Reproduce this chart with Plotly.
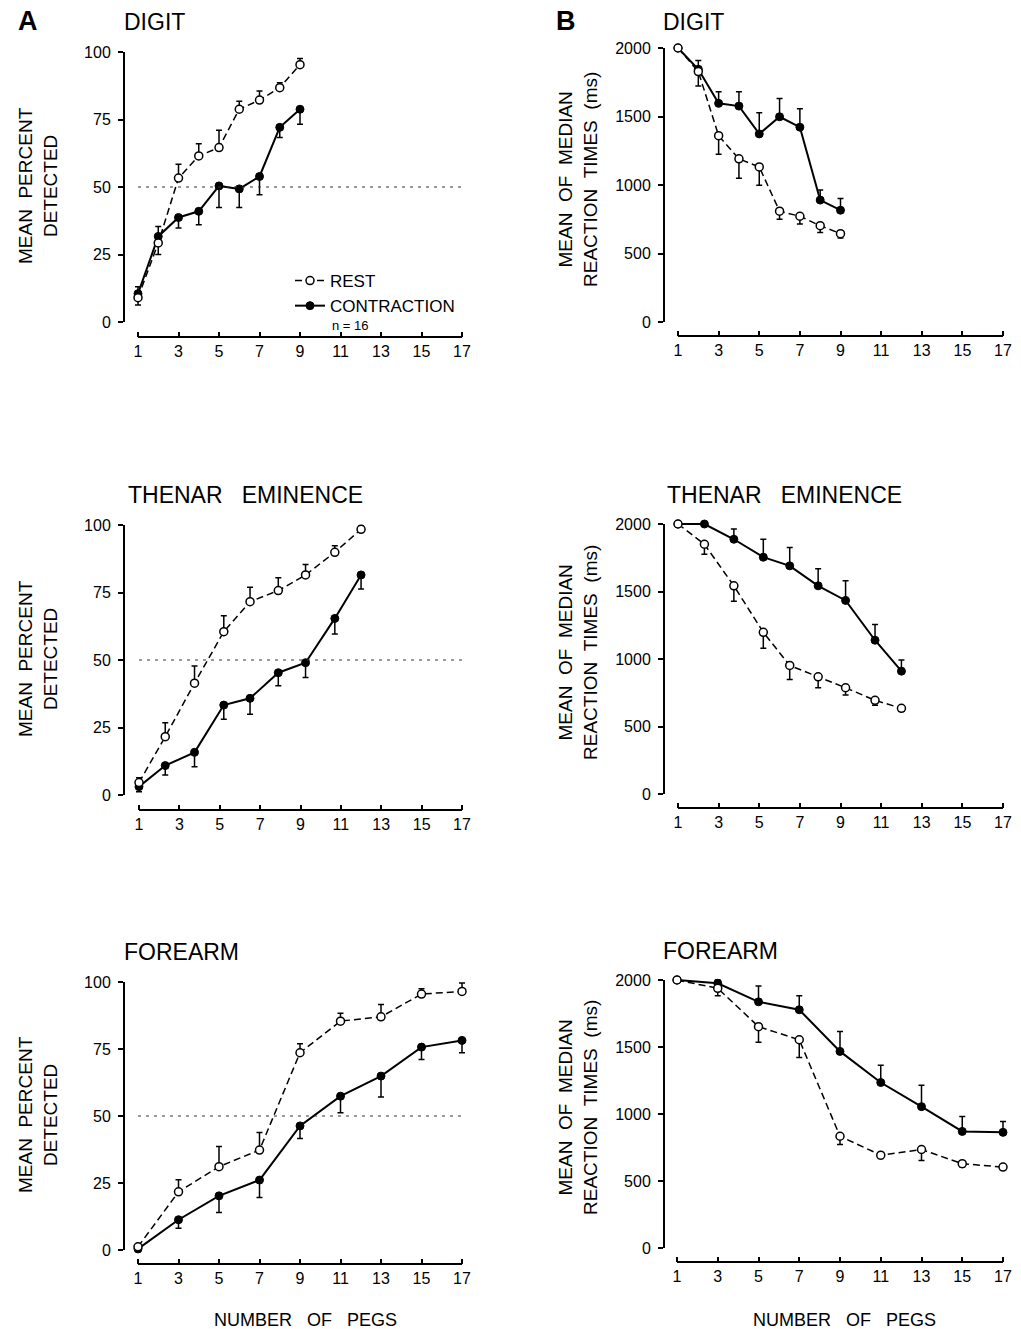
import plotly.graph_objects as go

W, H = 1021, 1329
FONT = "Liberation Sans, Arial, Helvetica, sans-serif"

# ---------------- data ----------------
x_digit = [1, 2, 3, 4, 5, 6, 7, 8, 9]
x_thenar = [1, 2.3, 3.75, 5.2, 6.5, 7.9, 9.25, 10.7, 12]
x_forearm = [1, 3, 5, 7, 9, 11, 13, 15, 17]
x_ticks = [1, 3, 5, 7, 9, 11, 13, 15, 17]
pct_ticks = [0, 25, 50, 75, 100]
rt_ticks = [0, 500, 1000, 1500, 2000]

# A: mean percent detected
digit_pct_rest = [9.0, 29.3, 53.3, 61.5, 64.6, 78.8, 82.2, 86.8, 95.3]
digit_pct_rest_up = [0, 0, 5.1, 4.5, 6.4, 3.0, 3.4, 1.8, 2.3]
digit_pct_rest_dn = [2.7, 4.3, 0, 0, 0, 0, 0, 0, 0]
digit_pct_con = [10.5, 31.7, 38.7, 41.0, 50.4, 49.3, 53.9, 72.1, 78.8]
digit_pct_con_up = [2.6, 3.7, 0, 0, 0, 0, 0, 0, 0]
digit_pct_con_dn = [0, 0, 3.9, 5.0, 8.0, 6.9, 6.8, 3.8, 5.6]

thenar_pct_rest = [4.6, 21.6, 41.4, 60.5, 71.6, 75.7, 81.5, 89.9, 98.4]
thenar_pct_rest_up = [1.8, 5.2, 6.4, 5.9, 5.3, 4.8, 3.9, 2.4, 1.2]
thenar_pct_rest_dn = [0, 0, 0, 0, 0, 0, 0, 0, 0]
thenar_pct_con = [3.1, 10.9, 15.8, 33.3, 35.8, 45.3, 49.0, 65.4, 81.5]
thenar_pct_con_up = [0, 0, 0, 0, 0, 0, 0, 0, 0]
thenar_pct_con_dn = [1.9, 3.5, 5.3, 5.2, 5.9, 4.8, 5.5, 5.8, 5.2]

forearm_pct_rest = [1.2, 21.7, 31.1, 37.3, 73.6, 85.4, 87.0, 95.5, 96.5]
forearm_pct_rest_up = [0, 4.5, 7.5, 6.5, 3.4, 2.9, 4.6, 2.0, 3.1]
forearm_pct_rest_dn = [0, 0, 0, 0, 0, 0, 0, 0, 0]
forearm_pct_con = [0.4, 11.3, 20.2, 26.1, 46.3, 57.4, 64.9, 75.7, 78.2]
forearm_pct_con_up = [0, 0, 0, 0, 0, 0, 0, 0, 0]
forearm_pct_con_dn = [0, 3.2, 6.2, 6.5, 4.7, 6.2, 7.8, 4.6, 4.6]

# B: mean of median reaction times (ms)
digit_rt_rest = [2000, 1828, 1360, 1191, 1132, 809, 772, 703, 645]
digit_rt_rest_up = [0, 0, 0, 0, 0, 0, 0, 0, 0]
digit_rt_rest_dn = [0, 105, 135, 142, 134, 59, 56, 49, 32]
digit_rt_con = [2000, 1845, 1596, 1576, 1373, 1498, 1422, 890, 816]
digit_rt_con_up = [0, 64, 85, 105, 154, 134, 134, 73, 86]
digit_rt_con_dn = [0, 0, 0, 0, 0, 0, 0, 0, 0]

thenar_rt_rest = [2000, 1850, 1542, 1198, 952, 868, 787, 694, 635]
thenar_rt_rest_up = [0, 0, 0, 0, 0, 0, 0, 0, 0]
thenar_rt_rest_dn = [0, 74, 115, 118, 103, 81, 54, 37, 20]
thenar_rt_con = [2000, 2000, 1887, 1754, 1690, 1542, 1434, 1139, 910]
thenar_rt_con_up = [0, 0, 76, 133, 136, 126, 145, 116, 82]
thenar_rt_con_dn = [0, 0, 0, 0, 0, 0, 0, 0, 0]

forearm_rt_rest = [2000, 1938, 1652, 1554, 834, 693, 735, 629, 604]
forearm_rt_rest_up = [0, 0, 0, 0, 0, 0, 0, 0, 0]
forearm_rt_rest_dn = [0, 56, 116, 133, 62, 25, 82, 25, 0]
forearm_rt_con = [2000, 1975, 1837, 1778, 1467, 1235, 1055, 870, 863]
forearm_rt_con_up = [0, 25, 118, 104, 148, 128, 160, 111, 81]
forearm_rt_con_dn = [0, 0, 0, 0, 0, 0, 0, 0, 0]

titles = ["DIGIT", "THENAR&nbsp;&nbsp;&nbsp;EMINENCE", "FOREARM"]

# ---------------- panel geometry (pixels) ----------------
panels = [
    dict(x=x_digit, rest=digit_pct_rest, rup=digit_pct_rest_up, rdn=digit_pct_rest_dn,
         con=digit_pct_con, cup=digit_pct_con_up, cdn=digit_pct_con_dn, vmax=100, ticks=pct_ticks,
         left=124, bottom=337, v0=322, vtop=52, x1=138, x17=462, ref=True),
    dict(x=x_digit, rest=digit_rt_rest, rup=digit_rt_rest_up, rdn=digit_rt_rest_dn,
         con=digit_rt_con, cup=digit_rt_con_up, cdn=digit_rt_con_dn, vmax=2000, ticks=rt_ticks,
         left=664, bottom=336, v0=322, vtop=48, x1=678, x17=1003, ref=False),
    dict(x=x_thenar, rest=thenar_pct_rest, rup=thenar_pct_rest_up, rdn=thenar_pct_rest_dn,
         con=thenar_pct_con, cup=thenar_pct_con_up, cdn=thenar_pct_con_dn, vmax=100, ticks=pct_ticks,
         left=124, bottom=810, v0=795, vtop=525, x1=139, x17=462, ref=True),
    dict(x=x_thenar, rest=thenar_rt_rest, rup=thenar_rt_rest_up, rdn=thenar_rt_rest_dn,
         con=thenar_rt_con, cup=thenar_rt_con_up, cdn=thenar_rt_con_dn, vmax=2000, ticks=rt_ticks,
         left=664, bottom=808, v0=794, vtop=524, x1=678, x17=1003, ref=False),
    dict(x=x_forearm, rest=forearm_pct_rest, rup=forearm_pct_rest_up, rdn=forearm_pct_rest_dn,
         con=forearm_pct_con, cup=forearm_pct_con_up, cdn=forearm_pct_con_dn, vmax=100, ticks=pct_ticks,
         left=124, bottom=1264, v0=1250, vtop=982, x1=138, x17=462, ref=True),
    dict(x=x_forearm, rest=forearm_rt_rest, rup=forearm_rt_rest_up, rdn=forearm_rt_rest_dn,
         con=forearm_rt_con, cup=forearm_rt_con_up, cdn=forearm_rt_con_dn, vmax=2000, ticks=rt_ticks,
         left=664, bottom=1262, v0=1248, vtop=980, x1=677, x17=1003, ref=False),
]

fig = go.Figure()
shapes = []
annotations = []
layout_axes = {}

for i, p in enumerate(panels):
    n = i + 1
    sfx = "" if n == 1 else str(n)
    xa, ya = "x" + sfx, "y" + sfx
    right = p["x17"] + 10
    top = p["vtop"] - 8
    ux = (p["x17"] - p["x1"]) / 16.0
    xmin = 1 - (p["x1"] - p["left"]) / ux
    xmax = 17 + (right - p["x17"]) / ux
    uy = (p["v0"] - p["vtop"]) / p["vmax"]
    ymin = -(p["bottom"] - p["v0"]) / uy
    ymax = p["vmax"] + (p["vtop"] - top) / uy

    layout_axes["xaxis" + sfx] = dict(
        domain=[p["left"] / W, right / W], range=[xmin, xmax], anchor=ya,
        showgrid=False, zeroline=False, showline=False,
        tickmode="array", tickvals=x_ticks, ticks="inside", ticklen=5, tickwidth=1.5,
        tickcolor="black", tickfont=dict(family=FONT, size=16, color="black"),
        ticklabelstandoff=3,
    )
    layout_axes["yaxis" + sfx] = dict(
        domain=[1 - p["bottom"] / H, 1 - top / H], range=[ymin, ymax], anchor=xa,
        showgrid=False, zeroline=False, showline=False,
        tickmode="array", tickvals=p["ticks"], ticks="outside", ticklen=5, tickwidth=1.5,
        tickcolor="black", tickfont=dict(family=FONT, size=16, color="black"),
        ticklabelstandoff=4,
    )
    # axis lines
    shapes.append(dict(type="line", xref=xa, yref=ya + " domain", x0=1, x1=17, y0=0, y1=0,
                       line=dict(color="black", width=2)))
    shapes.append(dict(type="line", xref=xa + " domain", yref=ya, x0=0, x1=0, y0=0, y1=p["vmax"],
                       line=dict(color="black", width=2)))
    if p["ref"]:
        shapes.append(dict(type="line", xref=xa, yref=ya, x0=1, x1=17, y0=50, y1=50,
                           line=dict(color="#333333", width=1, dash="3px,5px")))

    fig.add_trace(go.Scatter(
        x=p["x"], y=p["con"], xaxis=xa, yaxis=ya, mode="lines+markers",
        name="CONTRACTION", legendgroup="con", showlegend=(n == 1), legendrank=2,
        line=dict(color="black", width=2),
        marker=dict(symbol="circle", size=8, color="black", line=dict(color="black", width=1)),
        error_y=dict(type="data", symmetric=False, array=p["cup"], arrayminus=p["cdn"],
                     color="black", thickness=1.5, width=3),
    ))
    fig.add_trace(go.Scatter(
        x=p["x"], y=p["rest"], xaxis=xa, yaxis=ya, mode="lines+markers",
        name="REST", legendgroup="rest", showlegend=(n == 1), legendrank=1,
        line=dict(color="black", width=1.5, dash="7px,4px"),
        marker=dict(symbol="circle", size=8, color="white", line=dict(color="black", width=1.5)),
        error_y=dict(type="data", symmetric=False, array=p["rup"], arrayminus=p["rdn"],
                     color="black", thickness=1.5, width=3),
    ))

# ---------------- text ----------------
def ann(text, xpx, ypx, size, xanchor="left", yanchor="middle", angle=0, bold=False):
    annotations.append(dict(
        text=("<b>%s</b>" % text) if bold else text, x=xpx / W, y=1 - ypx / H,
        xref="paper", yref="paper", xanchor=xanchor, yanchor=yanchor,
        showarrow=False, textangle=angle, align="center",
        font=dict(family=FONT, size=size, color="black"),
    ))

ann("A", 16, 21, 27, bold=True)
ann("B", 554, 21, 27, bold=True)
for t, ya_, yb_, xa_ in zip(titles, [22, 495, 952], [22, 495, 951], [122, 126, 122]):
    ann(t, xa_, ya_, 23)
    ann(t, xa_ + 539, yb_, 23)

ylab_a = "MEAN&nbsp;&nbsp;PERCENT<br>DETECTED"
ylab_b = "MEAN&nbsp;&nbsp;OF&nbsp;&nbsp;MEDIAN<br>REACTION&nbsp;&nbsp;TIMES&nbsp;&nbsp;(ms)"
for yc in [186, 659, 1115]:
    ann(ylab_a, 38, yc, 19, xanchor="center", angle=-90)
for yc in [180, 653, 1108]:
    ann(ylab_b, 578, yc, 19, xanchor="center", angle=-90)

xlab = "NUMBER&nbsp;&nbsp;&nbsp;OF&nbsp;&nbsp;&nbsp;PEGS"
ann(xlab, 305, 1320, 18, xanchor="center")
ann(xlab, 844, 1320, 18, xanchor="center")

ann("n = 16", 330, 325, 13)

fig.update_layout(
    width=W, height=H, margin=dict(l=0, r=0, t=0, b=0),
    paper_bgcolor="white", plot_bgcolor="white",
    font=dict(family=FONT, color="black"),
    showlegend=True,
    legend=dict(x=290 / W, y=1 - 263 / H, xanchor="left", yanchor="top",
                bgcolor="rgba(0,0,0,0)", font=dict(family=FONT, size=17, color="black"),
                itemwidth=30, tracegroupgap=0, traceorder="normal"),
    shapes=shapes, annotations=annotations,
    **layout_axes,
)

fig.write_html("out.html")
